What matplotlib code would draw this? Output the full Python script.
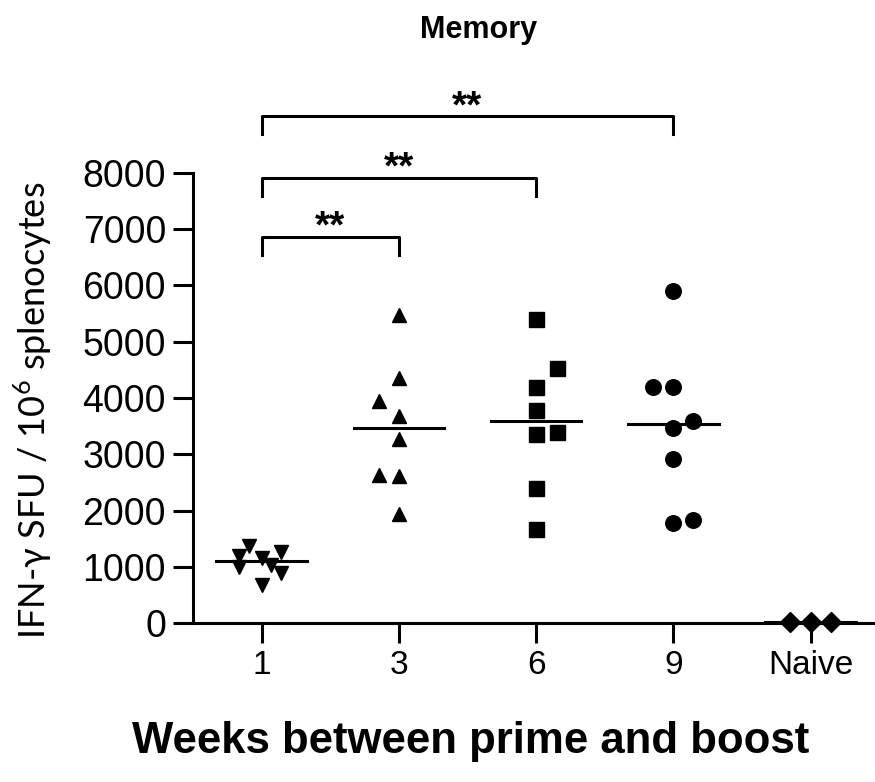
import numpy as np
import matplotlib
matplotlib.use("Agg")
import matplotlib.pyplot as plt

plt.rcParams["font.family"] = ["Liberation Sans", "DejaVu Sans"]
plt.rcParams["mathtext.fontset"] = "custom"
plt.rcParams["mathtext.rm"] = "Lato"

# data
groups = ["1", "3", "6", "9", "Naive"]
week1 = [1380, 1190, 1010, 1170, 1040, 1260, 900, 690]
week3 = [5470, 4350, 3950, 3680, 3270, 2640, 2620, 1950]
week6 = [5400, 4530, 4200, 3790, 3360, 3400, 2410, 1680]
week9 = [5900, 4200, 4190, 3600, 3470, 2920, 1790, 1840]
naive = [25, 35, 25]

# horizontal scatter of the points (as drawn in the original)
jit1 = [-0.09, -0.165, -0.165, 0.0, 0.07, 0.14, 0.14, 0.0]
jit3 = [0, 0, -0.145, 0, 0, -0.145, 0, 0]
jit6 = [0, 0.15, 0, 0, 0, 0.15, 0, 0]
jit9 = [0, -0.15, 0, 0.145, 0, 0, 0, 0.145]
jitn = [-0.15, 0, 0.15]

# significance brackets: (from group, to group, label)
comparisons = [(0, 1, "**"), (0, 2, "**"), (0, 3, "**")]
bracket_y = [6864, 7911, 9006]

fig = plt.figure(figsize=(8.75, 7.82), dpi=100)
ax = fig.add_axes([0.2206, 0.2027, 0.7794, 0.5765])

series = [week1, week3, week6, week9, naive]
jitters = [jit1, jit3, jit6, jit9, jitn]
markers = ["v", "^", "s", "o", "D"]
msizes = [10.5, 10.5, 10.8, 11.2, 10]

for i, (vals, jit, m, ms) in enumerate(zip(series, jitters, markers, msizes)):
    xs = [i + j for j in jit]
    ax.plot(xs, vals, linestyle="none", marker=m, markersize=ms,
            color="black", clip_on=False, zorder=3)
    med = np.median(vals)
    ax.plot([i - 0.33, i + 0.33], [med, med], color="black", lw=2.2,
            clip_on=False, zorder=4)

drop = 320
for (a, b, lab), y in zip(comparisons, bracket_y):
    ax.plot([a, a, b, b], [y - drop, y, y, y - drop], color="black",
            lw=2.2, clip_on=False)
    ax.text((a + b) / 2, y - 20, lab, ha="center", va="baseline",
            fontsize=28, fontweight="bold", clip_on=False)

ax.set_xlim(-0.5, 4.47)
ax.set_ylim(0, 8000)
ax.set_xticks(range(len(groups)))
ax.set_xticklabels(groups)
ax.set_yticks(range(0, 8001, 1000))

for s in ["top", "right"]:
    ax.spines[s].set_visible(False)
for s in ["left", "bottom"]:
    ax.spines[s].set_linewidth(2.2)

ax.tick_params(axis="both", length=14.4, width=2.2, direction="out", color="black")
ax.tick_params(axis="y", labelsize=27, pad=5)
ax.tick_params(axis="x", labelsize=24, pad=5)

fig.text(0.038, 0.4757, "IFN-γ SFU / 10$^{6}$ splenocytes",
         rotation=90, ha="center", va="center", fontsize=26,
         family=["Lato", "DejaVu Sans"])
fig.text(0.547, 0.962, "Memory", ha="center", va="center",
         fontsize=22, fontweight="bold")
fig.text(0.538, 0.0512, "Weeks between prime and boost", ha="center",
         va="center", fontsize=31.5, fontweight="bold")

fig.savefig("out.png", dpi=100)
